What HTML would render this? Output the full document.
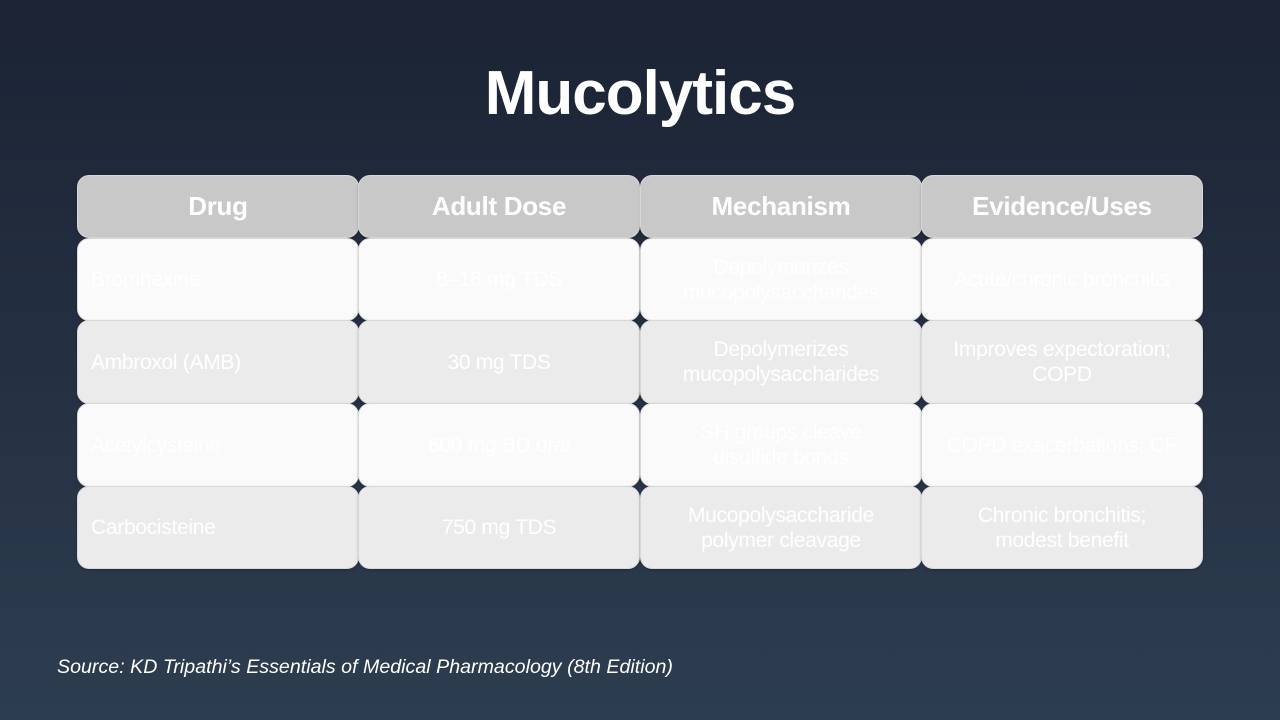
<!DOCTYPE html>
<html><head><style>
html,body{margin:0;padding:0}
body{width:1280px;height:720px;background:linear-gradient(180deg,#1b2334 0%,#2d3d50 100%);font-family:"Liberation Sans",sans-serif;position:relative;overflow:hidden}
h1{position:absolute;top:58px;left:0;width:1280px;text-align:center;margin:0;color:#fff;font-size:62px;font-weight:bold;letter-spacing:-1px}
.c{position:absolute;box-sizing:border-box;border-radius:12px;border:1px solid #d8d8d8;display:flex;align-items:center;justify-content:center;text-align:center;color:#fff;font-size:21px;line-height:25px;letter-spacing:-0.3px;box-shadow:0 1px 2px rgba(0,0,0,.25)}
.h{background:#c8c8c8;font-weight:bold;font-size:26px}
.w{background:#fafafa}
.g{background:#ebebeb}
.l{justify-content:flex-start;padding-left:13px}
.src{position:absolute;left:57px;top:656px;color:#fff;font-style:italic;font-size:19.6px;letter-spacing:0.02px}
</style></head><body>
<h1>Mucolytics</h1>
<div class="c h" style="left:77px;top:175px;width:282px;height:63px">Drug</div>
<div class="c h" style="left:358px;top:175px;width:282px;height:63px">Adult Dose</div>
<div class="c h" style="left:640px;top:175px;width:282px;height:63px">Mechanism</div>
<div class="c h" style="left:921px;top:175px;width:282px;height:63px">Evidence/Uses</div>

<div class="c w l" style="left:77px;top:238px;width:282px;height:83px">Bromhexine</div>
<div class="c w" style="left:358px;top:238px;width:282px;height:83px">8–16 mg TDS</div>
<div class="c w" style="left:640px;top:238px;width:282px;height:83px">Depolymerizes<br>mucopolysaccharides</div>
<div class="c w" style="left:921px;top:238px;width:282px;height:83px">Acute/chronic bronchitis</div>

<div class="c g l" style="left:77px;top:320px;width:282px;height:84px">Ambroxol (AMB)</div>
<div class="c g" style="left:358px;top:320px;width:282px;height:84px">30 mg TDS</div>
<div class="c g" style="left:640px;top:320px;width:282px;height:84px">Depolymerizes<br>mucopolysaccharides</div>
<div class="c g" style="left:921px;top:320px;width:282px;height:84px">Improves expectoration;<br>COPD</div>

<div class="c w l" style="left:77px;top:403px;width:282px;height:84px">Acetylcysteine</div>
<div class="c w" style="left:358px;top:403px;width:282px;height:84px">600 mg BD oral</div>
<div class="c w" style="left:640px;top:403px;width:282px;height:84px">SH groups cleave<br>disulfide bonds</div>
<div class="c w" style="left:921px;top:403px;width:282px;height:84px">COPD exacerbations; CF</div>

<div class="c g l" style="left:77px;top:486px;width:282px;height:83px">Carbocisteine</div>
<div class="c g" style="left:358px;top:486px;width:282px;height:83px">750 mg TDS</div>
<div class="c g" style="left:640px;top:486px;width:282px;height:83px">Mucopolysaccharide<br>polymer cleavage</div>
<div class="c g" style="left:921px;top:486px;width:282px;height:83px">Chronic bronchitis;<br>modest benefit</div>

<div class="src">Source: KD Tripathi’s Essentials of Medical Pharmacology (8th Edition)</div>
</body></html>
